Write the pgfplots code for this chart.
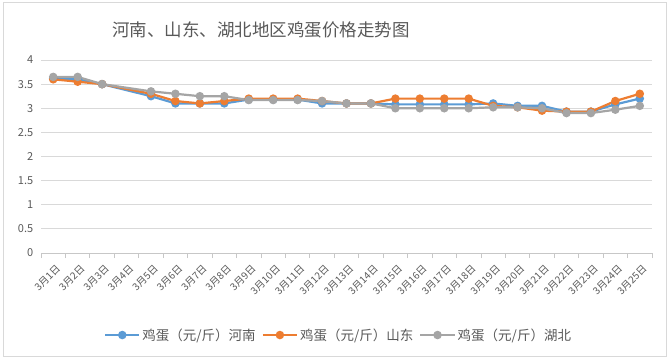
\documentclass[border=0pt]{standalone}
\usepackage{pgfplots}
\pgfplotsset{compat=1.18}
\usepackage{fontspec}
\setmainfont{Noto Sans CJK SC}
\definecolor{cblue}{HTML}{5B9BD5}
\definecolor{corange}{HTML}{ED7D31}
\definecolor{cgray}{HTML}{A5A5A5}
\definecolor{tgray}{HTML}{595959}
\definecolor{gridgray}{HTML}{D9D9D9}
\begin{document}
\begin{tikzpicture}[x=1pt,y=1pt]
\path (0,0) rectangle (672,360);
\draw[draw=gridgray, line width=1pt] (3,4) rectangle (666,358);
\node[font=\fontsize{17.5}{20}\selectfont, text=tgray] at (261,330) {河南、山东、湖北地区鸡蛋价格走势图};
\begin{axis}[at={(41pt,107pt)}, anchor=south west, scale only axis,
  width=611pt, height=193pt,
  xmin=-0.5, xmax=24.5, ymin=0, ymax=4,
  ytick={0,0.5,...,4},
  ymajorgrids, grid style={line width=0.8pt, draw=gridgray},
  axis x line*=bottom, axis y line*=left,
  y axis line style={draw=none},
  x axis line style={draw=gridgray!80!gray, line width=0.8pt},
  ytick style={draw=none}, xtick style={draw=none},
  xtick={0,...,24},
  xticklabels={3月1日,3月2日,3月3日,3月4日,3月5日,3月6日,3月7日,3月8日,3月9日,3月10日,3月11日,3月12日,3月13日,3月14日,3月15日,3月16日,3月17日,3月18日,3月19日,3月20日,3月21日,3月22日,3月23日,3月24日,3月25日},
  minor xtick={-0.5,0.5,...,24.5},
  tick align=outside, minor tick length=5pt,
  minor x tick style={draw=gridgray!80!gray, line width=0.8pt},
  x tick label style={rotate=45, anchor=north east, font=\fontsize{10}{11}\selectfont, text=tgray, inner sep=1pt, xshift=-2pt, yshift=-5pt},
  y tick label style={font=\fontsize{11}{12}\selectfont, text=tgray},
  /pgf/number format/assume math mode=true,
  legend style={at={(0.487,-0.425)}, anchor=center, legend columns=3, draw=none,
    font=\fontsize{13.5}{15}\selectfont, text=tgray,
    /tikz/every even column/.append style={column sep=4pt}},
  legend image code/.code={\draw[mark repeat=2,mark phase=2,#1] plot coordinates {(0cm,0cm) (0.6cm,0cm) (1.2cm,0cm)};},
  every axis plot/.append style={line width=2.2pt, mark=*, mark size=3.1pt},
]
\addplot[color=cblue] coordinates {
(0,3.62)(1,3.6)(2,3.5)(4,3.25)(5,3.1)(6,3.1)(7,3.1)(8,3.18)(9,3.18)(10,3.18)(11,3.1)(12,3.1)(13,3.1)(14,3.08)(15,3.08)(16,3.08)(17,3.08)(18,3.1)(19,3.05)(20,3.05)(21,2.93)(22,2.93)(23,3.08)(24,3.2)};
\addlegendentry{鸡蛋（元/斤）河南}
\addplot[color=corange] coordinates {
(0,3.6)(1,3.55)(2,3.5)(4,3.3)(5,3.15)(6,3.1)(7,3.15)(8,3.2)(9,3.2)(10,3.2)(11,3.15)(12,3.1)(13,3.1)(14,3.2)(15,3.2)(16,3.2)(17,3.2)(18,3.05)(19,3.02)(20,2.95)(21,2.93)(22,2.93)(23,3.15)(24,3.3)};
\addlegendentry{鸡蛋（元/斤）山东}
\addplot[color=cgray] coordinates {
(0,3.65)(1,3.65)(2,3.5)(4,3.35)(5,3.3)(6,3.25)(7,3.25)(8,3.17)(9,3.17)(10,3.17)(11,3.15)(12,3.1)(13,3.1)(14,3.0)(15,3.0)(16,3.0)(17,3.0)(18,3.02)(19,3.02)(20,3.0)(21,2.9)(22,2.9)(23,2.97)(24,3.05)};
\addlegendentry{鸡蛋（元/斤）湖北}
\end{axis}
\end{tikzpicture}
\end{document}
